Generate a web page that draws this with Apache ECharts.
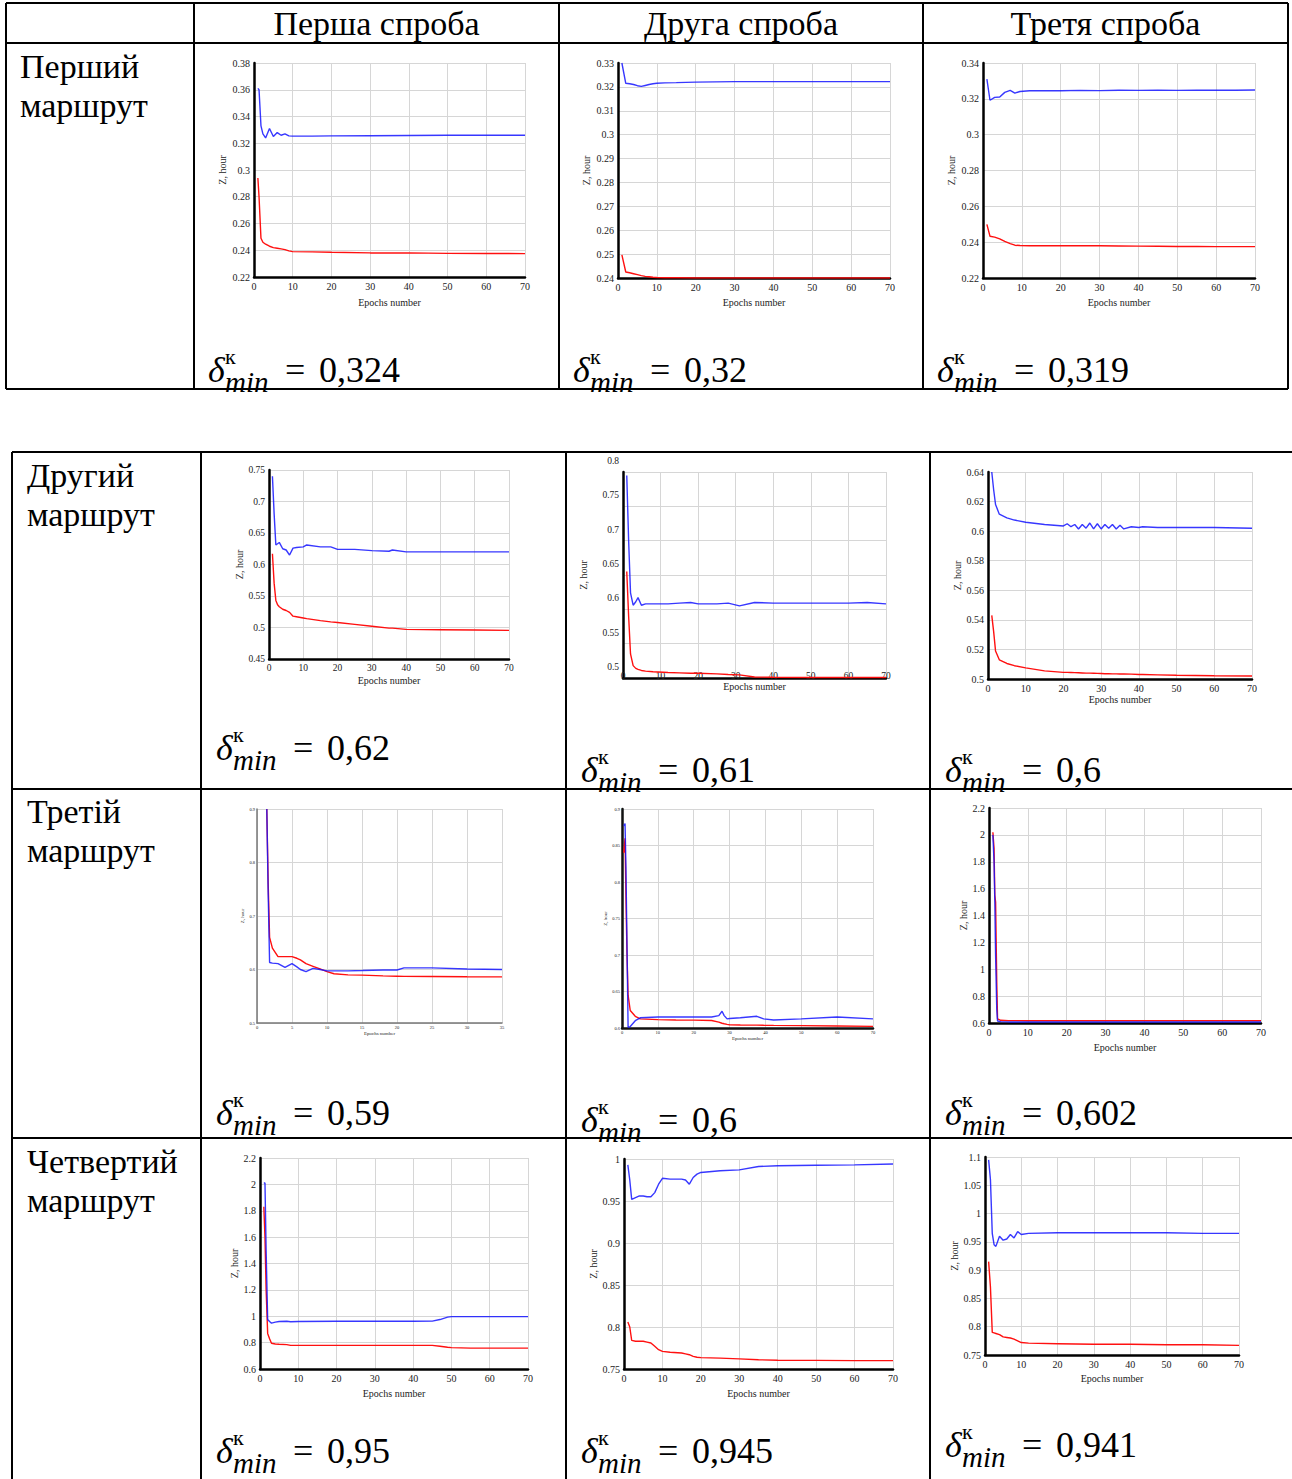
<!DOCTYPE html>
<html><head><meta charset="utf-8">
<script src="https://cdn.jsdelivr.net/npm/echarts@6/dist/echarts.min.js"></script>
<style>html,body{margin:0;padding:0;background:#fff}#c{width:1292px;height:1479px}</style>
</head><body><div id="c"></div>
<script>
// ---------- texts ----------
const headers = ['Перша спроба', 'Друга спроба', 'Третя спроба'];
const rowLabels = [['Перший', 'маршрут'], ['Другий', 'маршрут'], ['Третій', 'маршрут'], ['Четвертий', 'маршрут']];
const deltaValues = [['0,324', '0,32', '0,319'], ['0,62', '0,61', '0,6'], ['0,59', '0,6', '0,602'], ['0,95', '0,945', '0,941']];
const yName = 'Z, hour';
const xName = 'Epochs number';

// ---------- data: route 1 ----------
const c1Epochs = [1, 1.3, 1.8, 2.3, 3, 4, 5, 6, 7, 8, 9, 10, 15, 20, 30, 40, 50, 60, 70];
const c1Blue = [0.361, 0.360, 0.333, 0.327, 0.324, 0.331, 0.325, 0.328, 0.326, 0.327, 0.3255, 0.3253, 0.3253, 0.3255, 0.3256, 0.3258, 0.326, 0.326, 0.326];
const c1Red = [0.294, 0.280, 0.249, 0.246, 0.2445, 0.243, 0.242, 0.2415, 0.241, 0.2405, 0.2395, 0.239, 0.2388, 0.2385, 0.238, 0.238, 0.2377, 0.2376, 0.2375];

const c2Epochs = [1, 2, 3, 4, 5, 6, 7, 8, 9, 10, 12, 15, 20, 30, 40, 50, 60, 70];
const c2Blue = [0.330, 0.3215, 0.3213, 0.321, 0.3205, 0.3202, 0.3206, 0.321, 0.3213, 0.3215, 0.3217, 0.3218, 0.322, 0.3222, 0.3222, 0.3222, 0.3222, 0.3222];
const c2Red = [0.2497, 0.2425, 0.2422, 0.2418, 0.2414, 0.241, 0.2407, 0.2405, 0.2403, 0.2402, 0.2401, 0.2401, 0.240, 0.240, 0.240, 0.240, 0.240, 0.240];

const c3Epochs = [1, 1.8, 3, 4.3, 5.6, 7, 8.2, 9.5, 12, 15, 20, 25, 30, 35, 40, 45, 50, 55, 60, 65, 70];
const c3Blue = [0.331, 0.3192, 0.3208, 0.321, 0.3236, 0.3247, 0.3232, 0.3241, 0.3245, 0.3246, 0.3245, 0.3247, 0.3246, 0.3248, 0.3247, 0.3248, 0.3247, 0.3248, 0.3248, 0.3248, 0.3249];
const c3Red = [0.2499, 0.2433, 0.2428, 0.2418, 0.2404, 0.2392, 0.2383, 0.2381, 0.238, 0.238, 0.238, 0.238, 0.238, 0.2379, 0.2378, 0.2377, 0.2376, 0.2376, 0.2375, 0.2375, 0.2375];

// ---------- data: route 2 ----------
const c4Epochs = [1, 1.5, 2, 2.5, 3, 4, 5, 6, 7, 8, 10, 11, 15, 18, 20, 25, 30, 35, 36, 40, 50, 60, 70];
const c4Blue = [0.740, 0.680, 0.631, 0.633, 0.635, 0.625, 0.623, 0.615, 0.626, 0.627, 0.628, 0.631, 0.628, 0.628, 0.624, 0.624, 0.622, 0.621, 0.623, 0.620, 0.620, 0.620, 0.620];
const c4Red = [0.617, 0.570, 0.543, 0.536, 0.533, 0.529, 0.527, 0.524, 0.518, 0.517, 0.515, 0.514, 0.511, 0.509, 0.508, 0.505, 0.502, 0.499, 0.499, 0.497, 0.4965, 0.496, 0.4955];

const c5Epochs = [1, 1.5, 2, 2.7, 3.4, 4, 4.9, 6, 8, 12, 15, 18, 20, 25, 28, 31, 35, 40, 50, 60, 65, 70];
const c5Blue = [0.795, 0.700, 0.624, 0.606, 0.611, 0.617, 0.606, 0.608, 0.608, 0.608, 0.609, 0.610, 0.608, 0.608, 0.609, 0.605, 0.610, 0.609, 0.609, 0.609, 0.610, 0.608];
const c5Red = [0.655, 0.590, 0.535, 0.518, 0.514, 0.5125, 0.511, 0.510, 0.509, 0.508, 0.5075, 0.507, 0.507, 0.506, 0.505, 0.5045, 0.5015, 0.501, 0.5008, 0.5008, 0.5008, 0.5008];

const c6Epochs = [1, 1.5, 2, 3, 5, 7, 10, 15, 20, 21, 22, 23, 24, 25, 26, 27, 28, 29, 30, 31, 32, 33, 34, 35, 36, 38, 40, 41, 45, 50, 60, 70];
const c6Blue = [0.640, 0.628, 0.618, 0.6115, 0.609, 0.6075, 0.606, 0.6045, 0.6035, 0.605, 0.603, 0.6045, 0.6015, 0.6045, 0.602, 0.6055, 0.6015, 0.605, 0.6015, 0.6045, 0.602, 0.6045, 0.6015, 0.604, 0.6015, 0.603, 0.6025, 0.603, 0.6025, 0.6025, 0.6025, 0.602];
const c6Red = [0.543, 0.532, 0.519, 0.513, 0.5105, 0.509, 0.5075, 0.5055, 0.5045, 0.5045, 0.5044, 0.5043, 0.5042, 0.5041, 0.504, 0.504, 0.5039, 0.5038, 0.5037, 0.5036, 0.5036, 0.5035, 0.5035, 0.5034, 0.5034, 0.5033, 0.503, 0.503, 0.5028, 0.5025, 0.5022, 0.502];

// ---------- data: route 3 ----------
const c7Epochs = [1.4, 1.6, 1.8, 2.2, 3, 4, 5, 5.7, 6.2, 7, 8, 9, 10, 11, 13, 15, 18, 20, 21, 25, 30, 35];
const c7Blue = [0.9, 0.74, 0.613, 0.612, 0.611, 0.604, 0.611, 0.605, 0.600, 0.596, 0.602, 0.600, 0.5975, 0.5975, 0.5975, 0.598, 0.599, 0.599, 0.603, 0.603, 0.601, 0.600];
const c7Red = [0.9, 0.76, 0.66, 0.640, 0.624, 0.624, 0.624, 0.621, 0.618, 0.611, 0.606, 0.601, 0.596, 0.592, 0.590, 0.5895, 0.588, 0.5875, 0.5872, 0.587, 0.5865, 0.5863];

const c8Epochs = [0.5, 0.85, 1.1, 1.4, 1.7, 2.3, 3.7, 5.1, 10, 15, 20, 25, 27, 27.9, 28.5, 29.3, 30, 33, 37.6, 39.5, 42.3, 50, 60, 70];
const c8Blue = [0.877, 0.880, 0.820, 0.710, 0.601, 0.602, 0.610, 0.614, 0.615, 0.615, 0.615, 0.615, 0.617, 0.623, 0.617, 0.6125, 0.613, 0.614, 0.616, 0.6125, 0.611, 0.6125, 0.615, 0.6125];
const c8Red = [0.840, 0.860, 0.780, 0.700, 0.645, 0.624, 0.616, 0.6125, 0.6115, 0.611, 0.6108, 0.6103, 0.608, 0.6065, 0.6058, 0.605, 0.6045, 0.6042, 0.604, 0.6038, 0.6036, 0.6033, 0.6028, 0.6022];

const c9Epochs = [1, 1.3, 1.5, 1.7, 2, 2.2, 3, 5, 10, 20, 30, 40, 50, 60, 70];
const c9Blue = [2.0, 1.8, 1.5, 1.1, 0.7, 0.615, 0.61, 0.608, 0.608, 0.608, 0.608, 0.608, 0.608, 0.608, 0.608];
const c9Red = [2.02, 1.9, 1.55, 1.5, 0.9, 0.63, 0.62, 0.618, 0.617, 0.617, 0.617, 0.617, 0.617, 0.617, 0.617];

// ---------- data: route 4 ----------
const c10Epochs = [1, 1.3, 1.6, 2, 2.5, 3, 4, 5, 7, 8, 10, 20, 30, 40, 45, 47, 49, 50, 55, 60, 70];
const c10Blue = [2.01, 2.01, 1.5, 0.975, 0.96, 0.948, 0.955, 0.96, 0.962, 0.958, 0.96, 0.962, 0.962, 0.962, 0.963, 0.975, 0.993, 0.997, 0.997, 0.997, 0.997];
const c10Red = [1.83, 1.6, 1.2, 0.87, 0.83, 0.795, 0.79, 0.788, 0.785, 0.779, 0.779, 0.779, 0.779, 0.779, 0.779, 0.772, 0.765, 0.762, 0.758, 0.758, 0.758];

const c11Epochs = [1, 1.5, 2, 3, 4, 5, 6, 7, 8, 9, 10, 12, 15, 16, 17, 18, 19, 20, 25, 30, 35, 40, 50, 60, 70];
const c11Blue = [0.993, 0.975, 0.952, 0.954, 0.956, 0.956, 0.955, 0.955, 0.960, 0.970, 0.977, 0.976, 0.976, 0.975, 0.970, 0.978, 0.982, 0.984, 0.986, 0.987, 0.991, 0.992, 0.9925, 0.993, 0.994];
const c11Red = [0.806, 0.800, 0.784, 0.783, 0.783, 0.783, 0.782, 0.781, 0.777, 0.773, 0.771, 0.770, 0.769, 0.768, 0.767, 0.765, 0.764, 0.7635, 0.763, 0.762, 0.761, 0.7605, 0.7603, 0.760, 0.760];

const c12Epochs = [1, 1.5, 2, 2.5, 3, 4, 5, 6, 7, 8, 9, 10, 12, 20, 30, 40, 50, 60, 70];
const c12Blue = [1.095, 1.06, 0.965, 0.945, 0.942, 0.960, 0.953, 0.955, 0.963, 0.957, 0.968, 0.963, 0.965, 0.966, 0.966, 0.966, 0.966, 0.965, 0.965];
const c12Red = [0.915, 0.870, 0.790, 0.789, 0.788, 0.786, 0.782, 0.781, 0.780, 0.778, 0.775, 0.772, 0.771, 0.770, 0.769, 0.769, 0.768, 0.768, 0.767];

// ---------- axis scales ----------
const yScales = [
  [0.22, 0.38, 0.02], [0.24, 0.33, 0.01], [0.22, 0.34, 0.02],
  [0.45, 0.75, 0.05], [0.5, 0.8, 0.05], [0.5, 0.64, 0.02],
  [0.5, 0.9, 0.1], [0.6, 0.9, 0.05], [0.6, 2.2, 0.2],
  [0.6, 2.2, 0.2], [0.75, 1.0, 0.05], [0.75, 1.1, 0.05]
];
const xScales = [
  [0, 70, 10], [0, 70, 10], [0, 70, 10],
  [0, 70, 10], [0, 70, 10], [0, 70, 10],
  [0, 35, 5], [0, 70, 10], [0, 70, 10],
  [0, 70, 10], [0, 70, 10], [0, 70, 10]
];
const chartData = [
  [c1Epochs, c1Blue, c1Red], [c2Epochs, c2Blue, c2Red], [c3Epochs, c3Blue, c3Red],
  [c4Epochs, c4Blue, c4Red], [c5Epochs, c5Blue, c5Red], [c6Epochs, c6Blue, c6Red],
  [c7Epochs, c7Blue, c7Red], [c8Epochs, c8Blue, c8Red], [c9Epochs, c9Blue, c9Red],
  [c10Epochs, c10Blue, c10Red], [c11Epochs, c11Blue, c11Red], [c12Epochs, c12Blue, c12Red]
];

// ---------- layout (pixels) ----------
// [left, top, right, bottom, labelFont, nameFont, yNameGap, xNameGap, axisColor]
const boxes = [
  [254, 63, 525, 277, 10, 10, 27, 20, '#000'],
  [618, 63, 890, 278, 10, 10, 27, 19, '#000'],
  [983, 63, 1255, 278, 10, 10, 27, 19, '#000'],
  [269, 470, 509, 659, 9.5, 10, 20, 16, '#000'],
  [623, 472, 886, 678, 9.5, 10, 35, -6, '#000'],
  [988, 472, 1252, 679, 10, 10, 25, 15, '#000'],
  [257, 809, 502, 1023, 4.5, 5, 12, 8, '#777'],
  [622, 809, 873, 1028, 4.5, 5, 12, 8, '#111'],
  [989, 808, 1261, 1023, 10, 10, 19, 19, '#000'],
  [260, 1158, 528, 1369, 10, 10, 20, 19, '#000'],
  [624, 1159, 893, 1369, 10, 10, 24, 19, '#000'],
  [985, 1157, 1239, 1355, 10, 10, 24, 18, '#000']
];

const FONT = '"Liberation Serif", "Times New Roman", serif';
const grids = [], xAxes = [], yAxes = [], series = [];
boxes.forEach((b, i) => {
  const [l, t, r, bo, lf, nf, yg, xg, ac] = b;
  grids.push({ left: l, top: t, width: r - l, height: bo - t, containLabel: false });
  const shifted = (i === 4);
  xAxes.push({
    type: 'value', gridIndex: i, min: xScales[i][0], max: xScales[i][1], interval: xScales[i][2],
    axisLine: { show: true, onZero: false, lineStyle: { color: ac, width: i === 6 ? 1.5 : 2.5 } },
    axisTick: { show: false },
    axisLabel: { fontFamily: FONT, fontSize: lf, color: '#222', margin: shifted ? -7 : (lf < 6 ? 2 : 4) },
    splitLine: { show: true, lineStyle: { color: '#d6d6d6', width: 1 } },
    name: xName, nameLocation: 'middle', nameGap: xg,
    nameTextStyle: { fontFamily: FONT, fontSize: nf, color: '#222' }
  });
  yAxes.push({
    type: 'value', gridIndex: i, min: yScales[i][0], max: yScales[i][1], interval: yScales[i][2],
    axisLine: { show: true, onZero: false, lineStyle: { color: ac, width: i === 6 ? 1.5 : 2.5 } },
    axisTick: { show: false },
    axisLabel: Object.assign({ fontFamily: FONT, fontSize: lf, color: '#222', margin: lf < 6 ? 2 : 4 },
      shifted ? { verticalAlign: 'bottom', lineHeight: 22 } : {}),
    splitLine: { show: true, lineStyle: { color: '#d6d6d6', width: 1 } },
    name: yName, nameLocation: 'middle', nameGap: yg,
    nameTextStyle: { fontFamily: FONT, fontSize: nf, color: '#222' }
  });
  const [ep, blue, red] = chartData[i];
  series.push({
    type: 'line', xAxisIndex: i, yAxisIndex: i, showSymbol: false, animation: false,
    data: ep.map((e, k) => [e, red[k]]),
    lineStyle: { color: '#ff1010', width: 1.4 }, itemStyle: { color: '#ff1010' }, z: 2
  });
  series.push({
    type: 'line', xAxisIndex: i, yAxisIndex: i, showSymbol: false, animation: false,
    data: ep.map((e, k) => [e, blue[k]]),
    lineStyle: { color: '#1414ff', width: 1.4, opacity: 0.85 }, itemStyle: { color: '#1414ff' }, z: 3
  });
});

// ---------- table graphics ----------
const graphic = [];
function hline(y, x1, x2) { graphic.push({ type: 'line', shape: { x1, y1: y, x2, y2: y }, style: { stroke: '#000', lineWidth: 2 }, silent: true }); }
function vline(x, y1, y2) { graphic.push({ type: 'line', shape: { x1: x, y1, x2: x, y2 }, style: { stroke: '#000', lineWidth: 2 }, silent: true }); }
function txt(text, x, y, font, align) {
  graphic.push({ type: 'text', silent: true, style: { text, x, y, font, fill: '#000', align: align || 'left', verticalAlign: 'middle', textAlign: align || 'left', textVerticalAlign: 'middle' } });
}
// top table
[3, 43, 389].forEach(y => hline(y, 6, 1288));
[6, 194, 559, 923, 1288].forEach(x => vline(x, 3, 389));
// bottom table
[452, 789, 1138].forEach(y => hline(y, 12, 1292));
[12, 201, 566, 930].forEach(x => vline(x, 452, 1479));

const HFONT = '34px "Liberation Serif", serif';
const colCenters = [376.5, 741, 1105.5];
headers.forEach((h, i) => txt(h, colCenters[i], 23, HFONT, 'center'));

const rowLabelPos = [[20, 66], [27, 475], [27, 811], [27, 1161]];
rowLabels.forEach((lab, i) => {
  txt(lab[0], rowLabelPos[i][0], rowLabelPos[i][1], HFONT);
  txt(lab[1], rowLabelPos[i][0], rowLabelPos[i][1] + 39, HFONT);
});

// formula positions [x of delta, center y]
const formulaPos = [
  [[208, 370], [573, 370], [937, 370]],
  [[216, 748], [581, 770], [945, 770]],
  [[216, 1113], [581, 1120], [945, 1113]],
  [[216, 1451], [581, 1451], [945, 1445]]
];
function formula(x, cy, value) {
  txt('δ', x, cy, 'italic 36px "Liberation Serif", serif');
  txt('к', x + 17, cy - 14, '22px "Liberation Serif", serif');
  txt('min', x + 17, cy + 12, 'italic 29px "Liberation Serif", serif');
  txt('=', x + 77, cy, '36px "Liberation Serif", serif');
  txt(value, x + 111, cy, '36px "Liberation Serif", serif');
}
formulaPos.forEach((row, r) => row.forEach((p, c) => formula(p[0], p[1], deltaValues[r][c])));

const chart = echarts.init(document.getElementById('c'), null, { renderer: 'svg', width: 1292, height: 1479 });
chart.setOption({
  backgroundColor: '#fff',
  animation: false,
  grid: grids, xAxis: xAxes, yAxis: yAxes, series: series,
  graphic: graphic
});
</script></body></html>
